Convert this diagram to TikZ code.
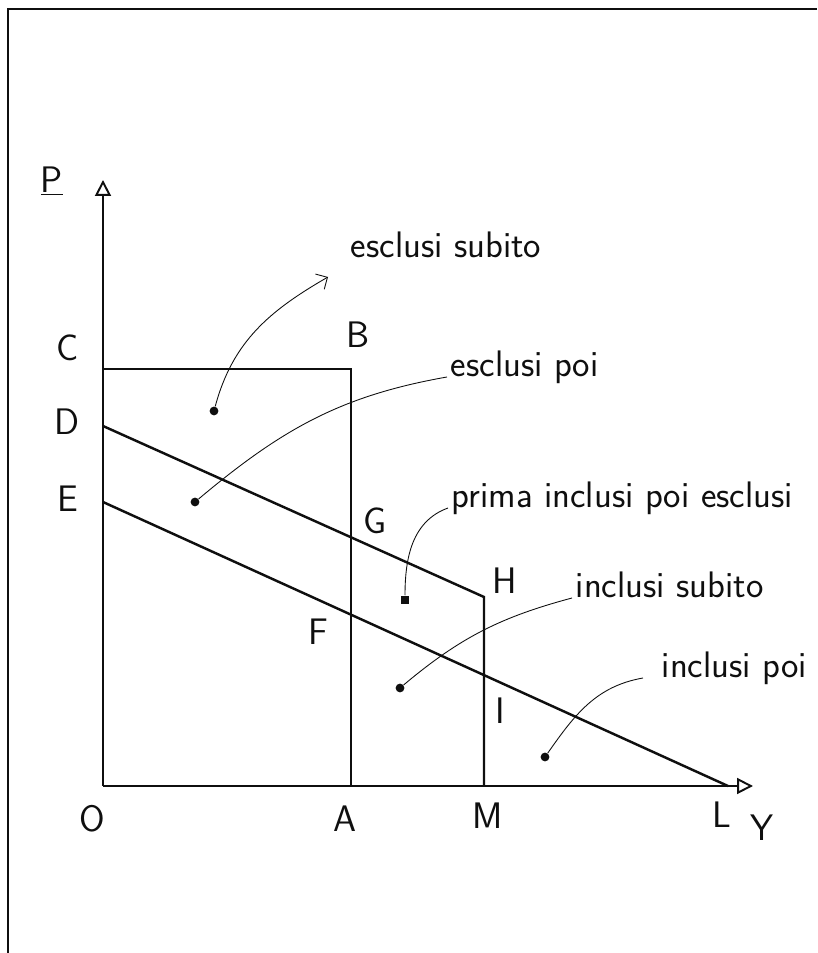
\documentclass[tikz,border=0pt]{standalone}
\usepackage{fontspec}
\usepackage{tikz}
\usetikzlibrary{arrows.meta,calc}
\definecolor{inkblack}{RGB}{15,15,15}

\begin{document}
\begin{tikzpicture}[
  axis/.style={line width=1.1pt, inkblack, -{Triangle[open,length=9pt,width=9pt]}},
  edge/.style={line width=1.4pt, inkblack},
  lbl/.style={inkblack, font=\sffamily\fontsize{21}{25}\selectfont},
  note/.style={inkblack, anchor=base west, inner sep=2pt, font=\sffamily\fontsize{21}{25}\selectfont},
  dot/.style={circle, fill=inkblack, inner sep=0pt, minimum size=5pt},
  link/.style={line width=0.5pt, inkblack}
]
  \useasboundingbox (-2.06,-3.34) rectangle (14.28,15.72);
  % page edge
  \draw[line width=1.2pt, inkblack] (-1.9,-3.34) -- (-1.9,15.54) -- (14.28,15.54);

  % axes
  \coordinate (O) at (0,0);
  \coordinate (Ptop) at (0,12.12);
  \coordinate (Yend) at (13,0);
  \draw[axis] (O) -- (Ptop);
  \draw[axis] (O) -- (Yend);

  % points of the figure
  \coordinate (A) at (4.96,0);
  \coordinate (B) at (4.96,8.34);
  \coordinate (C) at (0,8.34);
  \coordinate (D) at (0,7.2);
  \coordinate (E) at (0,5.68);
  \coordinate (H) at (7.62,3.78);
  \coordinate (M) at (7.62,0);
  \coordinate (L) at (12.5,0);
  \draw[edge] (C) -- (B) -- (A);
  \draw[edge] (D) -- (H) -- (M);
  \draw[edge] (E) -- (L);

  % letters
  \node[lbl] (lP) at (-1.02,12.1) {\underline{P}};
  \node[lbl] (lC) at (-0.7,8.76) {C};
  \node[lbl] (lD) at (-0.72,7.28) {D};
  \node[lbl] (lE) at (-0.7,5.74) {E};
  \node[lbl] (lB) at (5.1,9.02) {B};
  \node[lbl] (lG) at (5.44,5.3) {G};
  \node[lbl] (lH) at (8.04,4.1) {H};
  \node[lbl] (lF) at (4.3,3.08) {F};
  \node[lbl] (lI) at (7.94,1.5) {I};
  \node[lbl] (lO) at (-0.22,-0.66) {O};
  \node[lbl] (lA) at (4.84,-0.66) {A};
  \node[lbl] (lM) at (7.7,-0.6) {M};
  \node[lbl] (lL) at (12.38,-0.58) {L};
  \node[lbl] (lY) at (13.18,-0.84) {Y};

  % regions
  \node[note] (tSubito) at (4.88,10.56) {esclusi subito};
  \node[note] (tPoi) at (6.88,8.18) {esclusi poi};
  \node[note] (tPrima) at (6.9,5.56) {prima inclusi poi esclusi};
  \node[note] (tInSub) at (9.38,3.76) {inclusi subito};
  \node[note] (tInPoi) at (11.1,2.16) {inclusi poi};

  \node[dot] (d1) at (2.22,7.5) {};
  \node[dot] (d2) at (1.84,5.68) {};
  \node[dot, rectangle, minimum size=5pt] (d3) at (6.04,3.72) {};
  \node[dot] (d4) at (5.94,1.96) {};
  \node[dot] (d5) at (8.84,0.58) {};

  \coordinate (tip1) at (4.5,10.18);
  \draw[link, -{Straight Barb[length=5pt,width=10pt]}] (d1) to[out=75, in=210] (tip1);
  \draw[link] (d2) to[out=40, in=190] (tPoi.base west);
  \draw[link] (d3) to[out=90, in=200] (tPrima.base west);
  \draw[link] (d4) to[out=40, in=195] (tInSub.base west);
  \draw[link] (d5) to[out=55, in=190] ($(tInPoi.base west)+(-0.3,0)$);
\end{tikzpicture}
\end{document}
